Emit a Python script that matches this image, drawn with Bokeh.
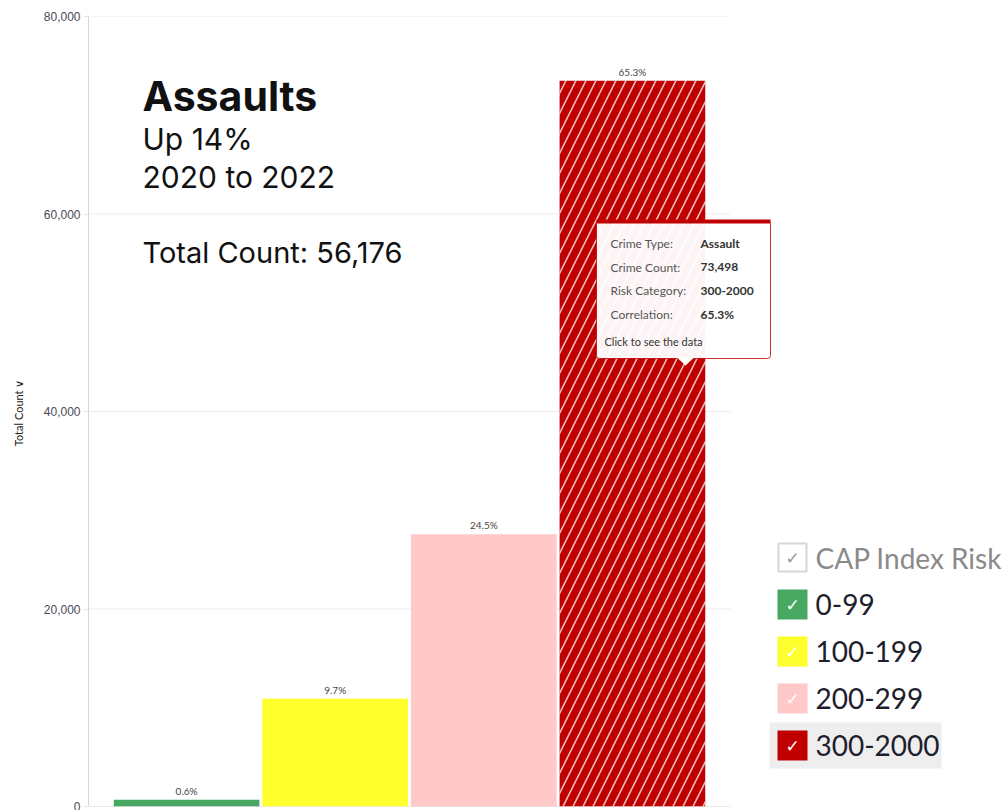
from bokeh.plotting import figure
from bokeh.models import (Range1d, FixedTicker, NumeralTickFormatter, Label, BoxAnnotation,
                          PolyAnnotation, ColumnDataSource)
from bokeh.core.properties import value
from bokeh.embed import file_html
from bokeh.resources import INLINE

# ---- data ----
categories = ["0-99", "100-199", "200-299", "300-2000"]
counts = [680, 10920, 27570, 73498]
pct_labels = ["0.6%", "9.7%", "24.5%", "65.3%"]
bar_colors = ["#48a862", "#ffff2e", "#ffc9c9", "#c00000"]
hatches = [" ", " ", " ", "/"]
y_ticks = [0, 20000, 40000, 60000, 80000]
legend_title = "CAP Index Risk"
title = "Assaults"
subtitle_lines = ["Up 14%", "2020 to 2022"]
total_text = "Total Count: 56,176"
tip_keys = ["Crime Type:", "Crime Count:", "Risk Category:", "Correlation:"]
tip_vals = ["Assault", "73,498", "300-2000", "65.3%"]
tip_footer = "Click to see the data"

# ---- layout constants (page px) ----
W, H = 1002, 810
FRAME_LEFT, FRAME_TOP, FRAME_BOTTOM = 88, 16, 806
BAR_AREA_RIGHT = 730          # where the chart area (gridlines) ends
X_START, X_BAR_END = -0.66, 3.66
x_end = X_START + (W - FRAME_LEFT) / (BAR_AREA_RIGHT - FRAME_LEFT) * (X_BAR_END - X_START)

def sx(px):
    return px - FRAME_LEFT

def sy(py):
    return FRAME_BOTTOM - py

src = ColumnDataSource(dict(x=list(range(len(categories))), top=counts, color=bar_colors,
                            hatch=hatches, pct=pct_labels, cat=categories))

p = figure(width=W, height=H, output_backend="svg", toolbar_location=None,
           x_range=Range1d(X_START, x_end), y_range=Range1d(0, 80000),
           min_border_left=FRAME_LEFT, min_border_right=0, min_border_top=FRAME_TOP,
           min_border_bottom=H - FRAME_BOTTOM)
p.outline_line_color = None
p.background_fill_color = "white"
p.border_fill_color = "white"

p.xaxis.visible = False
p.xgrid.visible = False
p.ygrid.visible = False

ya = p.yaxis[0]
ya.ticker = FixedTicker(ticks=y_ticks)
ya.formatter = NumeralTickFormatter(format="0,0")
ya.axis_line_color = "#d6d6d6"
ya.major_tick_line_color = "#e6e6e6"
ya.major_tick_out = 5
ya.major_tick_in = 0
ya.minor_tick_line_color = None
ya.major_label_text_font = "Liberation Sans"
ya.major_label_text_font_size = "12px"
ya.major_label_text_color = "#4a4a55"
ya.major_label_standoff = 3
ya.axis_label = "Total Count  \u2228"
ya.axis_label_text_font = "Lato"
ya.axis_label_text_font_size = "11px"
ya.axis_label_text_font_style = "normal"
ya.axis_label_text_color = "#222222"
ya.axis_label_standoff = 16

# horizontal gridlines limited to the chart area
grid_src = ColumnDataSource(dict(y=y_ticks))
p.segment(x0=X_START, x1=X_BAR_END, y0="y", y1="y", source=grid_src,
          line_color="#ececec", line_width=1)
p.segment(x0=X_START, x1=X_BAR_END, y0=0, y1=0, line_color="#d9d9d9", line_width=1)

p.vbar(x="x", top="top", width=0.98, source=src, fill_color="color", line_color=None,
       hatch_pattern="hatch", hatch_color="white", hatch_alpha=0.75,
       hatch_scale=20, hatch_weight=1.6)

p.text(x="x", y="top", text="pct", source=src, text_align="center", text_baseline="bottom",
       y_offset=-3, text_font_size="10px", text_color="#444444", text_font=value("Lato"))

# ---- headline text ----
p.add_layout(Label(x=sx(142), y=sy(95), x_units="screen", y_units="screen", text=title,
                   text_font="Inter", text_font_style="bold", text_font_size="41px",
                   text_color="#111111", text_baseline="alphabetic"))
for i, line in enumerate(subtitle_lines):
    p.add_layout(Label(x=sx(142), y=sy(138 + 38.5 * i), x_units="screen", y_units="screen",
                       text=line, text_font="Inter", text_font_size="30px",
                       text_color="#111111", text_baseline="alphabetic"))
p.add_layout(Label(x=sx(142), y=sy(252), x_units="screen", y_units="screen", text=total_text,
                   text_font="Inter", text_font_size="29px", text_color="#111111",
                   text_baseline="alphabetic"))

# ---- tooltip ----
RED = "#c00000"
p.add_layout(BoxAnnotation(left=sx(596), right=sx(770), top=sy(220), bottom=sy(358),
                           left_units="screen", right_units="screen", top_units="screen",
                           bottom_units="screen", fill_color="white", fill_alpha=0.96,
                           line_color=RED, line_width=1, line_alpha=0.8, border_radius=3))
p.add_layout(BoxAnnotation(left=sx(596), right=sx(770), top=sy(219), bottom=sy(223),
                           left_units="screen", right_units="screen", top_units="screen",
                           bottom_units="screen", fill_color=RED, fill_alpha=1,
                           line_color=None))
p.add_layout(PolyAnnotation(xs=[sx(677), sx(693), sx(685)], ys=[sy(357.5), sy(357.5), sy(365)],
                            xs_units="screen", ys_units="screen", fill_color="white",
                            fill_alpha=1, line_color=None))
for i, (k, v) in enumerate(zip(tip_keys, tip_vals)):
    yy = sy(243 + 23.5 * i)
    p.add_layout(Label(x=sx(610), y=yy, x_units="screen", y_units="screen", text=k,
                       text_font="Lato", text_font_size="12px", text_color="#555555",
                       text_baseline="middle"))
    p.add_layout(Label(x=sx(700), y=yy, x_units="screen", y_units="screen", text=v,
                       text_font="Lato", text_font_style="bold", text_font_size="12px",
                       text_color="#333333", text_baseline="middle"))
p.add_layout(Label(x=sx(604), y=sy(341), x_units="screen", y_units="screen", text=tip_footer,
                   text_font="Lato", text_font_size="11px", text_color="#333333",
                   text_baseline="middle"))

# ---- legend ----
SQ = 30
LX = 777
row_y = [557, 604, 651, 698, 745]
p.add_layout(BoxAnnotation(left=sx(769), right=sx(941), top=sy(722), bottom=sy(768),
                           left_units="screen", right_units="screen", top_units="screen",
                           bottom_units="screen", fill_color="#eeeeee", fill_alpha=1,
                           line_color=None))
p.add_layout(BoxAnnotation(left=sx(LX + 1), right=sx(LX + SQ - 1), top=sy(row_y[0] - SQ / 2 + 1),
                           bottom=sy(row_y[0] + SQ / 2 - 1), left_units="screen",
                           right_units="screen", top_units="screen", bottom_units="screen",
                           fill_color="white", fill_alpha=1, line_color="#777777", line_width=2))
p.add_layout(Label(x=sx(LX + SQ / 2), y=sy(row_y[0]), x_units="screen", y_units="screen",
                   text="\u2713", text_font="DejaVu Sans", text_font_size="17px",
                   text_color="#999999", text_align="center", text_baseline="middle"))
p.add_layout(Label(x=sx(LX + 38), y=sy(row_y[0]), x_units="screen", y_units="screen",
                   text=legend_title, text_font="Lato", text_font_size="28px",
                   text_color="#8a8a8a", text_baseline="middle"))
for i, (cat, col) in enumerate(zip(categories, bar_colors)):
    cy = row_y[i + 1]
    p.add_layout(BoxAnnotation(left=sx(LX), right=sx(LX + SQ), top=sy(cy - SQ / 2),
                               bottom=sy(cy + SQ / 2), left_units="screen",
                               right_units="screen", top_units="screen", bottom_units="screen",
                               fill_color=col, fill_alpha=1, line_color=None))
    p.add_layout(Label(x=sx(LX + SQ / 2), y=sy(cy), x_units="screen", y_units="screen",
                       text="\u2713", text_font="DejaVu Sans", text_font_size="17px",
                       text_color="white", text_align="center", text_baseline="middle"))
    p.add_layout(Label(x=sx(LX + 38), y=sy(cy), x_units="screen", y_units="screen",
                       text=cat, text_font="Lato", text_font_size="28px",
                       text_color="#1e1e2e", text_baseline="middle"))

open("out.html", "w").write(file_html(p, INLINE))
